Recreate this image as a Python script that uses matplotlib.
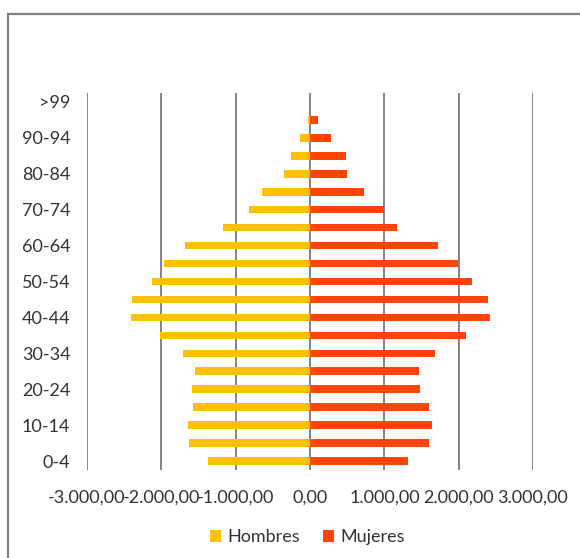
import matplotlib.pyplot as plt
from matplotlib.patches import Rectangle

# ── datos ─────────────────────────────────────────────
grupos = ['0-4', '5-9', '10-14', '15-19', '20-24', '25-29', '30-34', '35-39',
          '40-44', '45-49', '50-54', '55-59', '60-64', '65-69', '70-74',
          '75-79', '80-84', '85-89', '90-94', '95-99', '>99']
hombres = [1369, 1629, 1647, 1570, 1593, 1553, 1709, 2018, 2412, 2398,
           2130, 1964, 1687, 1168, 814, 644, 353, 250, 139, 31, 0]
mujeres = [1320, 1602, 1647, 1602, 1485, 1472, 1687, 2094, 2425, 2394,
           2183, 1996, 1727, 1177, 1002, 720, 497, 483, 277, 103, 0]
ticks_x = [-3000, -2000, -1000, 0, 1000, 2000, 3000]
etiquetas_x = ['-3.000,00', '-2.000,00', '-1.000,00', '0,00',
               '1.000,00', '2.000,00', '3.000,00']

plt.rcParams['font.family'] = ['Lato', 'DejaVu Sans']
texto = '#333333'

fig = plt.figure(figsize=(5.8, 5.58), dpi=100)
ax = fig.add_axes([87 / 580, 1 - 470 / 558, (533 - 87) / 580, (470 - 93) / 558])

y = list(range(len(grupos)))
ax.barh(y, [-v for v in hombres], height=0.42, color='#FFC000', label='Hombres', zorder=3)
ax.barh(y, mujeres, height=0.42, color='#FF4500', label='Mujeres', zorder=3)

ax.set_xlim(-3000, 3000)
ax.set_ylim(-0.5, len(grupos) - 0.5)
ax.set_xticks(ticks_x)
ax.set_xticklabels(etiquetas_x, fontsize=13, color=texto)
ax.set_yticks(y)
ax.set_yticklabels([g if i % 2 == 0 else '' for i, g in enumerate(grupos)],
                   fontsize=13, color=texto)
ax.tick_params(length=0)
ax.tick_params(axis='x', pad=14)
ax.tick_params(axis='y', pad=12)
ax.grid(axis='x', color='#7a7a7a', linewidth=1.3, zorder=0)
for s in ax.spines.values():
    s.set_visible(False)

# marco gris del gráfico (recortado a derecha y abajo)
fig.patches.append(Rectangle((8 / 580, -0.1), 1.2, 1.1 - 14 / 558,
                             transform=fig.transFigure, fill=False,
                             edgecolor='#808080', linewidth=1.6))

leg = fig.legend(loc='center', bbox_to_anchor=(0.53, 0.037), ncol=2, frameon=False,
                 fontsize=13, handlelength=0.6, handleheight=0.6,
                 handletextpad=0.35, columnspacing=1.3)
for t in leg.get_texts():
    t.set_color(texto)

fig.savefig('out.png', dpi=100)
